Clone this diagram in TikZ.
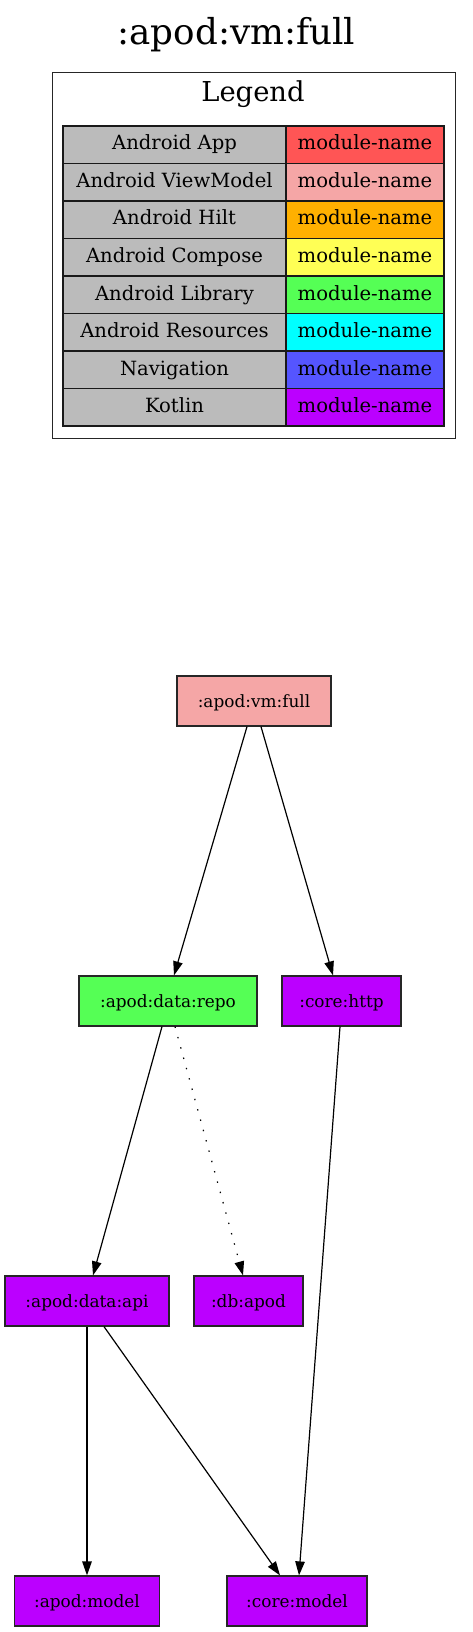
\documentclass[tikz,border=0pt]{standalone}
\usepackage{fontspec}
\setmainfont{DejaVu Serif}
\usetikzlibrary{arrows.meta}
\definecolor{cApp}{HTML}{FF5555}
\definecolor{cVM}{HTML}{F5A6A6}
\definecolor{cHilt}{HTML}{FFB000}
\definecolor{cCompose}{HTML}{FFFF55}
\definecolor{cLib}{HTML}{55FF55}
\definecolor{cRes}{HTML}{00FFFF}
\definecolor{cNav}{HTML}{5555FF}
\definecolor{cKt}{HTML}{BB00FF}
\definecolor{cGrey}{HTML}{BBBBBB}
\begin{document}
\begin{tikzpicture}[x=1pt,y=-1pt,
  mod/.style={draw=black!85, line width=1.2pt, minimum height=50pt, inner sep=0pt,
    font=\fontsize{16.9}{20}\selectfont, text height=12.6pt, text depth=0pt},
  dep/.style={-{Triangle[length=14pt,width=9.5pt]}, line width=1.2pt},
  cell/.style={draw=black!90, line width=1.1pt, minimum height=37.5pt, inner sep=0pt,
    font=\fontsize{19.6}{24}\selectfont, text height=10.5pt, text depth=0pt},
  cellL/.style={cell, fill=cGrey, minimum width=223pt},
  cellR/.style={cell, minimum width=158pt}]
\useasboundingbox (0,0) rectangle (472,1632);
\node[anchor=base, font=\fontsize{35.7}{40}\selectfont] (title) at (236.5,44.3) {:apod:vm:full};
\node[draw=black!85, line width=1pt, minimum width=403pt, minimum height=365pt, inner sep=0pt] (legend) at (253.5,255.5) {};
\node[anchor=base, font=\fontsize{27.4}{30}\selectfont] (legendtitle) at (253,101.7) {Legend};
\foreach \i/\t/\c in {1/Android App/cApp, 2/Android ViewModel/cVM, 3/Android Hilt/cHilt,
    4/Android Compose/cCompose, 5/Android Library/cLib, 6/Android Resources/cRes,
    7/Navigation/cNav, 8/Kotlin/cKt}{
  \node[cellL] (la\i) at (174.5,{126+37.5*(\i-1)+18.75}) {\t};
  \node[cellR, fill=\c] (lb\i) at (365,{126+37.5*(\i-1)+18.75}) {module-name};
}
\node[mod, fill=cVM, minimum width=154pt] (vm) at (254,701) {:apod:vm:full};
\node[mod, fill=cLib, minimum width=178pt] (repo) at (168,1001) {:apod:data:repo};
\node[mod, fill=cKt, minimum width=119pt] (http) at (341.5,1001) {:core:http};
\node[mod, fill=cKt, minimum width=164pt] (api) at (87,1301) {:apod:data:api};
\node[mod, fill=cKt, minimum width=109pt] (db) at (248.5,1301) {:db:apod};
\node[mod, fill=cKt, minimum width=145pt] (amodel) at (87,1601) {:apod:model};
\node[mod, fill=cKt, minimum width=140pt] (cmodel) at (297,1601) {:core:model};
\draw[dep] ([xshift=-7pt]vm.south) -- ([xshift=6pt]repo.north);
\draw[dep] ([xshift=7pt]vm.south) -- ([xshift=-8.5pt]http.north);
\draw[dep] ([xshift=-6pt]repo.south) -- ([xshift=6pt]api.north);
\draw[dep, dash pattern=on 1.4pt off 9.3pt] ([xshift=7pt]repo.south) -- ([xshift=-5.5pt]db.north);
\draw[dep] ([xshift=-1.5pt]http.south) -- ([xshift=2pt]cmodel.north);
\draw[dep] (api.south) -- (amodel.north);
\draw[dep] ([xshift=17pt]api.south) -- ([xshift=-17pt]cmodel.north);
\end{tikzpicture}
\end{document}
